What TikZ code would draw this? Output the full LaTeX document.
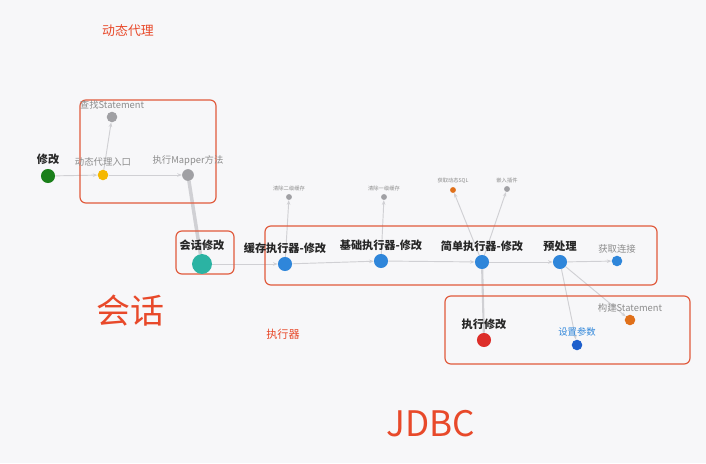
\documentclass[tikz,border=0pt]{standalone}
\usepackage{fontspec}
\setmainfont{Noto Sans CJK SC}
\usetikzlibrary{arrows.meta,positioning}
\definecolor{bgc}{HTML}{F7F7F9}
\definecolor{framec}{HTML}{E05A3C}
\definecolor{titlec}{HTML}{E8492A}
\definecolor{tealc}{HTML}{2BB3A3}
\definecolor{bluec}{HTML}{2F86DA}
\definecolor{deepbluec}{HTML}{1E5FCC}
\definecolor{greenc}{HTML}{1A7F1A}
\definecolor{yellowc}{HTML}{F5B800}
\definecolor{orangec}{HTML}{E0701A}
\definecolor{redc}{HTML}{DD2E2A}
\definecolor{greyc}{HTML}{A0A0A4}
\definecolor{edgec}{HTML}{D0D0D4}
\pgfdeclarelayer{bg}
\pgfdeclarelayer{edges}
\pgfsetlayers{bg,edges,main}
\tikzset{
  dot/.style={circle, inner sep=0pt, minimum size=#1},
  lab/.style={font=\fontsize{8}{9}\selectfont, text=gray!90},
  boldlab/.style={font=\fontsize{9.5}{10}\selectfont\bfseries, text=black!85},
  tinylab/.style={font=\fontsize{4.5}{5}\selectfont, text=gray!90},
  frame/.style={draw=framec, line width=1pt, rounded corners=5pt},
  line/.style={-{Stealth[length=4pt,width=3pt]}, draw=edgec, line width=0.8pt},
  heavy/.style={draw=edgec, line width=3pt},
  title/.style={text=titlec}
}
\begin{document}
\begin{tikzpicture}[x=0.3mm, y=-0.3mm]
  \begin{pgfonlayer}{bg}
    \fill[bgc] (0,0) rectangle (706,463);
  \end{pgfonlayer}
  \useasboundingbox (0,0) rectangle (706,463);

  % frames
  \draw[frame] (80,100) rectangle (216,203);
  \draw[frame] (176,231) rectangle (234,274);
  \draw[frame] (265,226) rectangle (657,285);
  \draw[frame] (445,296) rectangle (690,364);

  % titles
  \node[title, font=\fontsize{11}{12}\selectfont] (tproxy) at (128,31) {动态代理};
  \node[title, font=\fontsize{29}{30}\selectfont] (tsession) at (130,311) {会话};
  \node[title, font=\fontsize{9.5}{10}\selectfont] (texec) at (283,334) {执行器};
  \node[title, font=\fontsize{30}{31}\selectfont] (tjdbc) at (431,424) {JDBC};

  % dynamic proxy
  \node[dot=12pt, fill=greenc, label={[boldlab]above:修改}] (update) at (48,176) {};
  \node[dot=9pt, fill=yellowc, label={[lab, yshift=-1pt]above:动态代理入口}] (entry) at (103,175) {};
  \node[dot=9pt, fill=greyc, label={[lab, yshift=-2pt]above:查找Statement}] (findst) at (112,117) {};
  \node[dot=10pt, fill=greyc, label={[lab, yshift=-1pt]above:执行Mapper方法}] (mapper) at (188,175) {};

  % session
  \node[dot=17pt, fill=tealc, label={[boldlab, yshift=-1pt]above:会话修改}] (session) at (202,264) {};

  % executors
  \node[dot=12pt, fill=bluec, label={[boldlab, yshift=-1pt]above:缓存执行器-修改}] (cacheexec) at (285,264) {};
  \node[dot=5pt, fill=greyc, label={[tinylab, yshift=-1pt]above:清除二级缓存}] (clear2) at (289,197) {};
  \node[dot=12pt, fill=bluec, label={[boldlab, yshift=-1pt]above:基础执行器-修改}] (baseexec) at (381,261) {};
  \node[dot=5pt, fill=greyc, label={[tinylab, yshift=-1pt]above:清除一级缓存}] (clear1) at (384,197) {};
  \node[dot=12pt, fill=bluec, label={[boldlab, yshift=-1pt]above:简单执行器-修改}] (simpleexec) at (482,262) {};
  \node[dot=5pt, fill=orangec, label={[tinylab, yshift=-1pt]above:获取动态SQL}] (dynsql) at (453,190) {};
  \node[dot=5pt, fill=greyc, label={[tinylab, yshift=-1pt]above:嵌入插件}] (plugin) at (507,189) {};
  \node[dot=12pt, fill=bluec, label={[boldlab, yshift=-1pt]above:预处理}] (prepare) at (560,262) {};
  \node[dot=9pt, fill=bluec, label={[lab, yshift=-2pt]above:获取连接}] (getconn) at (617,261) {};

  % jdbc
  \node[dot=12pt, fill=redc, label={[boldlab, yshift=-1pt]above:执行修改}] (doupdate) at (484,340) {};
  \node[dot=9pt, fill=deepbluec, label={[lab, text=bluec, yshift=-1pt]above:设置参数}] (setparam) at (577,345) {};
  \node[dot=9pt, fill=orangec, label={[lab, yshift=-2pt]above:构建Statement}] (buildst) at (630,320) {};

  % connectors
  \begin{pgfonlayer}{edges}
    \draw[line] (update) -- (entry);
    \draw[line] (entry) -- (findst);
    \draw[line] (entry) -- (mapper);
    \draw[heavy] (mapper) -- (session);
    \draw[line] (session) -- (cacheexec);
    \draw[line] (cacheexec) -- (clear2);
    \draw[line] (cacheexec) -- (baseexec);
    \draw[line] (baseexec) -- (clear1);
    \draw[line] (baseexec) -- (simpleexec);
    \draw[line] (simpleexec) -- (dynsql);
    \draw[line] (simpleexec) -- (plugin);
    \draw[line] (simpleexec) -- (prepare);
    \draw[draw=edgec, line width=1.8pt] (simpleexec) -- (doupdate);
    \draw[line] (prepare) -- (getconn);
    \draw[line] (prepare) -- (setparam);
    \draw[line] (prepare) -- (buildst);
  \end{pgfonlayer}
\end{tikzpicture}
\end{document}
